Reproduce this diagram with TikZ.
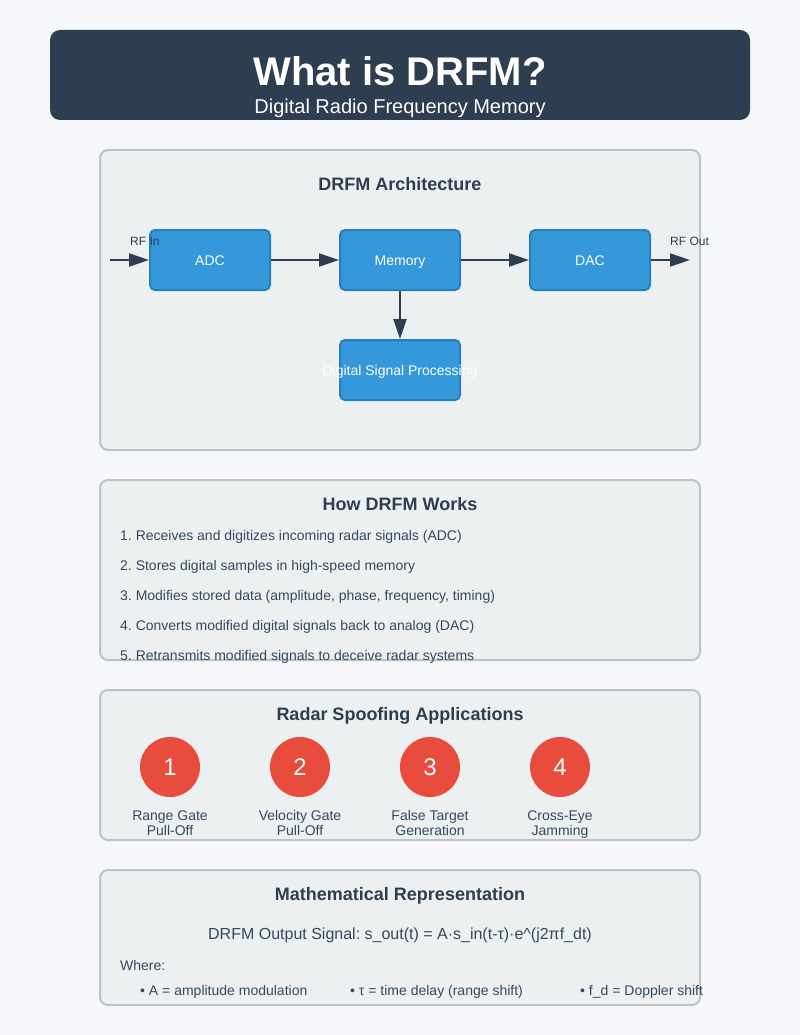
\documentclass[tikz,border=0pt]{standalone}
\usepackage{fontspec}
\setmainfont{Liberation Sans}
\usetikzlibrary{arrows.meta}
\definecolor{bgc}{HTML}{F5F7FA}
\definecolor{darkc}{HTML}{2C3E50}
\definecolor{txtc}{HTML}{34495E}
\definecolor{panelc}{HTML}{ECF0F1}
\definecolor{paneledge}{HTML}{BDC3C7}
\definecolor{blockfill}{HTML}{3498DB}
\definecolor{blockedge}{HTML}{2980B9}
\definecolor{redc}{HTML}{E74C3C}
\newcommand\fsz[1]{\fontsize{#1}{#1}\selectfont}
\frenchspacing
\begin{document}
\begin{tikzpicture}[x=1pt,y=-1pt,
  panelbox/.style={draw=paneledge, line width=2pt, fill=panelc, rounded corners=8pt, inner sep=0, minimum width=600pt},
  blockbox/.style={draw=blockedge, line width=2pt, fill=blockfill, rounded corners=5pt, inner sep=0, minimum width=120pt, minimum height=60pt},
  blocktext/.style={inner sep=0, anchor=base, text=white, font=\fsz{14}},
  ttl/.style={inner sep=0, anchor=base, text=darkc, font=\bfseries\fsz{18}},
  item/.style={inner sep=0, anchor=base west, text=txtc, font=\fsz{14}},
  lbl/.style={inner sep=0, anchor=base, text=txtc, font=\fsz{14}},
  small/.style={inner sep=0, anchor=base west, text=darkc, font=\fsz{12}},
  arr/.style={draw=darkc, line width=2pt, -{Triangle[length=20pt,width=13pt]}},
  numc/.style={circle, fill=redc, minimum size=60pt, inner sep=0, text=white, font=\fsz{24}}
]
\path[use as bounding box, fill=bgc] (0,0) rectangle (800,1035);

% header
\node[fill=darkc, rounded corners=10pt, minimum width=700pt, minimum height=90pt, inner sep=0] (header) at (400,75) {};
\node[inner sep=0, anchor=base, text=white, font=\bfseries\fsz{40}] (title) at (400,86) {What is DRFM?};
\node[inner sep=0, anchor=base, text=white, font=\fsz{20}] (subtitle) at (400,114) {Digital Radio Frequency Memory};

% architecture panel
\node[panelbox, minimum height=300pt] (arch) at (400,300) {};
\node[ttl] (archt) at (400,190) {DRFM Architecture};
\node[blockbox] (adc) at (210,260) {};
\node[blocktext] at (210,265) {ADC};
\node[blockbox] (mem) at (400,260) {};
\node[blocktext] at (400,265) {Memory};
\node[blockbox] (dac) at (590,260) {};
\node[blocktext] at (590,265) {DAC};
\node[blockbox] (dsp) at (400,370) {};
\node[blocktext] at (400,375) {Digital Signal Processing};
\coordinate (rfin) at (110,260);
\coordinate (rfout) at (690,260);
\draw[arr] (rfin) -- (adc.west);
\draw[arr] (adc.east) -- (mem.west);
\draw[arr] (mem.east) -- (dac.west);
\draw[arr] (dac.east) -- (rfout);
\draw[arr] (mem.south) -- (dsp.north);
\node[small] (rfinl) at (130,245) {RF In};
\node[small] (rfoutl) at (670,245) {RF Out};

% how it works
\node[panelbox, minimum height=180pt] (how) at (400,570) {};
\node[ttl] (howt) at (400,510) {How DRFM Works};
\node[item] (i1) at (120,540) {1. Receives and digitizes incoming radar signals (ADC)};
\node[item] (i2) at (120,570) {2. Stores digital samples in high-speed memory};
\node[item] (i3) at (120,600) {3. Modifies stored data (amplitude, phase, frequency, timing)};
\node[item] (i4) at (120,630) {4. Converts modified digital signals back to analog (DAC)};
\node[item] (i5) at (120,660) {5. Retransmits modified signals to deceive radar systems};

% spoofing
\node[panelbox, minimum height=150pt] (spoof) at (400,765) {};
\node[ttl] (spooft) at (400,720) {Radar Spoofing Applications};
\node[numc] (c1) at (170,767) {1};
\node[numc] (c2) at (300,767) {2};
\node[numc] (c3) at (430,767) {3};
\node[numc] (c4) at (560,767) {4};
\node[lbl] at (170,820) {Range Gate};
\node[lbl] at (170,835) {Pull-Off};
\node[lbl] at (300,820) {Velocity Gate};
\node[lbl] at (300,835) {Pull-Off};
\node[lbl] at (430,820) {False Target};
\node[lbl] at (430,835) {Generation};
\node[lbl] at (560,820) {Cross-Eye};
\node[lbl] at (560,835) {Jamming};

% math
\node[panelbox, minimum height=135pt] (math) at (400,937.5) {};
\node[ttl] (matht) at (400,900) {Mathematical Representation};
\node[lbl, font=\fsz{16}] (formula) at (400,939) {DRFM Output Signal: s\_out(t) = A·s\_in(t-τ)·e\^{}(j2πf\_dt)};
\node[item] (where) at (120,970) {Where:};
\node[item] (b1) at (140,995) {• A = amplitude modulation};
\node[item] (b2) at (350,995) {• τ = time delay (range shift)};
\node[item] (b3) at (580,995) {• f\_d = Doppler shift};
\end{tikzpicture}
\end{document}
